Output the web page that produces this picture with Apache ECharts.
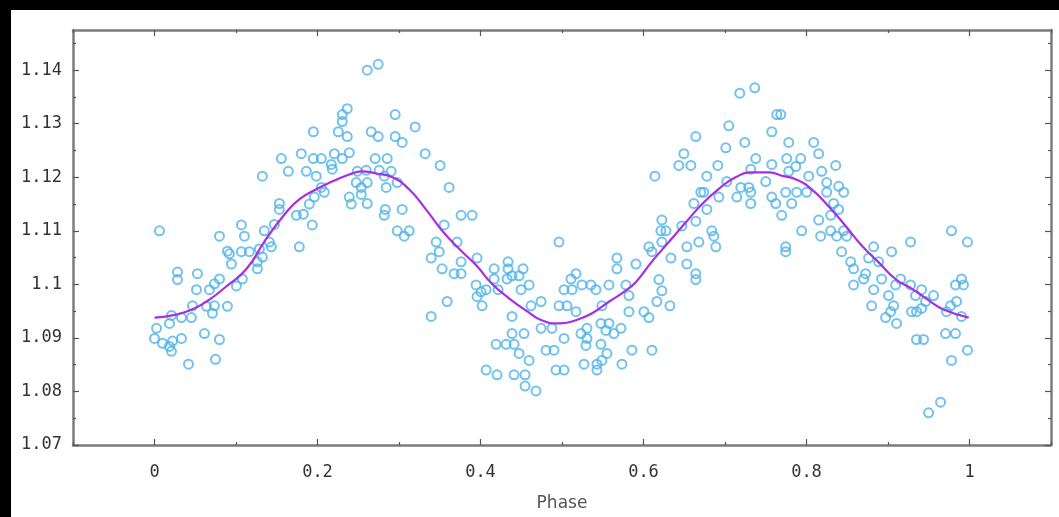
<!DOCTYPE html>
<html>
<head>
<meta charset="utf-8">
<script src="https://cdn.jsdelivr.net/npm/echarts@6/dist/echarts.min.js"></script>
<style>
html,body{margin:0;padding:0;background:#000;width:1059px;height:517px;overflow:hidden;}
#chart{position:absolute;left:11px;top:10px;width:1048px;height:507px;background:#fff;}
</style>
</head>
<body>
<div id="chart"></div>
<script>
// Observed points: [phase, relative flux]
const observed = [
[0.0061,1.1100],[0.1556,1.1235],[0.1801,1.1244],[0.1642,1.1211],[0.1324,1.1202],[0.1532,1.1151],[0.1532,1.1140],
[0.1740,1.1129],[0.1777,1.1070],[0.1066,1.1111],[0.1103,1.1090],[0.0797,1.1090],[0.1348,1.1100],[0.1471,1.1112],
[0.0895,1.1062],[0.0919,1.1057],[0.1066,1.1061],[0.1164,1.1061],[0.1287,1.1066],[0.1324,1.1051],[0.1262,1.1042],
[0.1262,1.1029],[0.1434,1.1070],[0.1409,1.1079],[0.0944,1.1038],[0.0282,1.1023],[0.0282,1.1009],[0.0527,1.1020],
[0.0797,1.1010],[0.1078,1.1010],[0.1005,1.0997],[0.0515,1.0990],[0.0674,1.0990],[0.0735,1.1001],[0.0466,1.0960],
[0.0637,1.0959],[0.0711,1.0946],[0.0735,1.0960],[0.0895,1.0959],[0.0208,1.0942],[0.0184,1.0927],[0.0331,1.0938],
[0.0453,1.0938],[0.0025,1.0918],[0.0000,1.0899],[0.0098,1.0890],[0.0184,1.0884],[0.0221,1.0894],[0.0331,1.0899],
[0.0208,1.0875],[0.0613,1.0908],[0.0797,1.0897],[0.0417,1.0851],[0.0748,1.0860],
[0.2610,1.1400],[0.2745,1.1411],[0.2365,1.1328],[0.2304,1.1317],[0.2304,1.1304],[0.2255,1.1285],[0.2365,1.1276],
[0.1949,1.1285],[0.2953,1.1317],[0.3199,1.1294],[0.2659,1.1285],[0.2745,1.1276],[0.2953,1.1276],[0.3039,1.1265],
[0.3321,1.1244],[0.3505,1.1222],[0.3615,1.1181],[0.3762,1.1129],[0.1949,1.1235],[0.2047,1.1235],[0.2206,1.1244],
[0.2390,1.1246],[0.2304,1.1235],[0.2169,1.1224],[0.2181,1.1215],[0.1863,1.1211],[0.1985,1.1202],[0.2708,1.1235],
[0.2855,1.1235],[0.2488,1.1211],[0.2598,1.1213],[0.2757,1.1213],[0.2904,1.1211],[0.2819,1.1202],[0.2475,1.1190],
[0.2610,1.1190],[0.2537,1.1181],[0.2537,1.1168],[0.2843,1.1181],[0.2978,1.1190],[0.2390,1.1163],[0.2414,1.1150],
[0.2610,1.1151],[0.2831,1.1140],[0.2819,1.1129],[0.3039,1.1140],[0.1826,1.1131],[0.1936,1.1111],[0.2047,1.1181],
[0.2083,1.1172],[0.1961,1.1163],[0.1900,1.1150],[0.2978,1.1100],[0.3125,1.1100],[0.3064,1.1090],[0.3554,1.1111],
[0.3456,1.1079],[0.3493,1.1061],[0.3395,1.1049],[0.3713,1.1079],[0.3529,1.1029],[0.3676,1.1020],[0.3762,1.1020],
[0.3591,1.0968],[0.3395,1.0940],[0.3762,1.1042],
[0.3897,1.1129],[0.3958,1.1049],[0.3946,1.0999],[0.4007,1.0986],[0.3958,1.0977],[0.4020,1.0960],[0.4069,1.0990],
[0.4167,1.1029],[0.4167,1.1010],[0.4216,1.0990],[0.4338,1.1042],[0.4338,1.1029],[0.4387,1.1016],[0.4326,1.1010],
[0.4522,1.1029],[0.4473,1.1016],[0.4596,1.0999],[0.4498,1.0990],[0.4743,1.0968],[0.4620,1.0960],[0.4387,1.0940],
[0.4387,1.0908],[0.4534,1.0908],[0.4191,1.0888],[0.4314,1.0888],[0.4412,1.0888],[0.4473,1.0871],[0.4596,1.0858],
[0.4069,1.0840],[0.4203,1.0831],[0.4412,1.0831],[0.4547,1.0831],[0.4547,1.0810],[0.4681,1.0801],[0.4743,1.0918],
[0.4804,1.0877],[0.4902,1.0877],[0.4963,1.1079],[0.4926,1.0840],[0.5025,1.0840],[0.5172,1.1020],[0.5110,1.1010],
[0.5123,1.0990],[0.5025,1.0990],[0.5245,1.0999],[0.5355,1.0999],[0.5417,1.0990],[0.5576,1.0999],[0.4963,1.0960],
[0.5061,1.0960],[0.5172,1.0949],[0.4877,1.0918],[0.5025,1.0899],[0.5233,1.0908],[0.5306,1.0918],[0.5306,1.0899],
[0.5294,1.0886],[0.5270,1.0851],[0.5478,1.0927],[0.5576,1.0927],[0.5539,1.0914],[0.5637,1.0908],[0.5478,1.0888],
[0.5551,1.0871],[0.5490,1.0858],[0.5429,1.0851],[0.5429,1.0840],[0.5490,1.0960],[0.5674,1.1049],[0.5674,1.1029],
[0.5735,1.0851],
[0.7365,1.1367],[0.7181,1.1357],[0.7635,1.1317],[0.7574,1.1285],[0.7047,1.1296],[0.7243,1.1265],[0.6642,1.1276],
[0.7010,1.1255],[0.6495,1.1244],[0.6434,1.1222],[0.6581,1.1222],[0.6140,1.1202],[0.6912,1.1222],[0.6777,1.1202],
[0.7377,1.1235],[0.7316,1.1215],[0.7574,1.1224],[0.7500,1.1192],[0.7022,1.1192],[0.6703,1.1172],[0.6740,1.1172],
[0.6618,1.1151],[0.6924,1.1163],[0.6777,1.1140],[0.6642,1.1118],[0.7194,1.1181],[0.7292,1.1181],[0.7145,1.1163],
[0.7316,1.1172],[0.7316,1.1151],[0.7574,1.1163],[0.7623,1.1151],[0.6225,1.1120],[0.6213,1.1100],[0.6275,1.1100],
[0.6225,1.1079],[0.6471,1.1109],[0.6838,1.1100],[0.6863,1.1090],[0.6887,1.1070],[0.6679,1.1079],[0.6532,1.1070],
[0.6066,1.1070],[0.6103,1.1061],[0.6336,1.1049],[0.6532,1.1038],[0.6642,1.1020],[0.6642,1.1009],[0.5907,1.1038],
[0.5784,1.0999],[0.5821,1.0979],[0.6189,1.1009],[0.6225,1.0988],[0.6164,1.0968],[0.6324,1.0960],[0.5821,1.0949],
[0.6005,1.0949],[0.6066,1.0938],[0.5723,1.0918],[0.5858,1.0877],[0.6103,1.0877],
[0.7684,1.1317],[0.7782,1.1265],[0.8088,1.1265],[0.8150,1.1244],[0.7757,1.1235],[0.7929,1.1235],[0.7868,1.1220],
[0.7782,1.1211],[0.8358,1.1222],[0.8186,1.1211],[0.8027,1.1202],[0.8248,1.1190],[0.7745,1.1172],[0.7880,1.1172],
[0.7819,1.1151],[0.8002,1.1172],[0.8248,1.1172],[0.8395,1.1183],[0.8456,1.1172],[0.8333,1.1151],[0.8395,1.1140],
[0.8297,1.1129],[0.7696,1.1129],[0.8150,1.1120],[0.7941,1.1100],[0.8174,1.1090],[0.8297,1.1100],[0.8370,1.1090],
[0.8493,1.1090],[0.8456,1.1100],[0.7745,1.1070],[0.7745,1.1061],[0.8431,1.1061],[0.8542,1.1042],[0.8578,1.1029],
[0.8578,1.0999],[0.8725,1.1020],[0.8701,1.1010],[0.8824,1.1070],[0.8762,1.1049],[0.9044,1.1061],[0.8885,1.1042],
[0.8922,1.1010],[0.8824,1.0990],[0.8799,1.0960],[0.9007,1.0979],[0.9069,1.0960],[0.9032,1.0949],[0.8971,1.0938],
[0.9105,1.0927],[0.9277,1.1079],[0.9154,1.1010],[0.9093,1.0999],[0.9277,1.0999],[0.9412,1.0990],[0.9338,1.0979],
[0.9559,1.0979],[0.9461,1.0968],[0.9289,1.0949],[0.9350,1.0949],[0.9350,1.0897],[0.9436,1.0897],[0.9498,1.0760],
[0.9645,1.0780],
[0.9779,1.1100],[0.9975,1.1079],[0.9902,1.1010],[0.9828,1.0999],[0.9926,1.0999],[0.9841,1.0968],[0.9767,1.0960],
[0.9718,1.0949],[0.9902,1.0940],[0.9412,1.0955],[0.9706,1.0908],[0.9828,1.0908],[0.9779,1.0858],[0.9975,1.0877]
];

// Fitted curve
const fitPhase = [0.000,0.022,0.043,0.064,0.088,0.113,0.137,0.162,0.178,0.199,0.218,0.239,0.254,0.272,0.292,0.312,
  0.333,0.353,0.374,0.395,0.414,0.435,0.456,0.475,0.496,0.517,0.537,0.558,0.576,0.591,0.610,0.631,0.652,0.672,0.692,
  0.713,0.733,0.754,0.772,0.787,0.806,0.827,0.848,0.868,0.888,0.909,0.929,0.950,0.968,0.999];
const fitValue = [1.0938,1.0942,1.0951,1.0968,1.0996,1.1029,1.1085,1.1135,1.1159,1.1178,1.1192,1.1205,1.1211,1.1207,
  1.1200,1.1178,1.1140,1.1100,1.1066,1.1035,1.1001,1.0974,1.0951,1.0933,1.0927,1.0933,1.0946,1.0968,1.0986,1.1005,
  1.1042,1.1079,1.1116,1.1150,1.1178,1.1200,1.1209,1.1209,1.1202,1.1196,1.1178,1.1146,1.1109,1.1072,1.1042,1.1010,
  1.0992,1.0970,1.0953,1.0938];

// Tick positions
const xMajorTicks = [0, 0.2, 0.4, 0.6, 0.8, 1];
const xMinorTicks = [-0.1, 0.1, 0.3, 0.5, 0.7, 0.9, 1.1];
const yMajorTicks = [1.07, 1.08, 1.09, 1.1, 1.11, 1.12, 1.13, 1.14];
const yMinorTicks = [1.075, 1.085, 1.095, 1.105, 1.115, 1.125, 1.135, 1.145];

const axisColor = '#7c7c7c';
const tickColor = '#555';
const labelStyle = {fontFamily: 'DejaVu Sans Mono', fontSize: 17, color: '#333'};

function xAx(pos, ticks, len, withLine, labels) {
  return {
    type: 'value', position: pos, min: -0.1, max: 1.1,
    axisLine: {show: withLine, onZero: false, lineStyle: {color: axisColor, width: 2.5}},
    axisTick: {show: true, inside: true, length: len, customValues: ticks, lineStyle: {color: tickColor, width: 1.2}},
    axisLabel: labels ? Object.assign({show: true, customValues: xMajorTicks, margin: 19,
      formatter: v => String(Math.round(v * 10) / 10)}, labelStyle) : {show: false},
    splitLine: {show: false}
  };
}
function yAx(pos, ticks, len, withLine, labels) {
  return {
    type: 'value', position: pos, min: 1.07, max: 1.1475,
    axisLine: {show: withLine, onZero: false, lineStyle: {color: axisColor, width: 2.5}},
    axisTick: {show: true, inside: true, length: len, customValues: ticks, lineStyle: {color: tickColor, width: 1.2}},
    axisLabel: labels ? Object.assign({show: true, customValues: yMajorTicks, margin: 11,
      formatter: v => String(Math.round(v * 100) / 100)}, labelStyle) : {show: false},
    splitLine: {show: false}
  };
}

const chart = echarts.init(document.getElementById('chart'), null, {renderer: 'canvas'});
const xMain = xAx('bottom', xMajorTicks, 6, true, true);
xMain.name = 'Phase';
xMain.nameLocation = 'middle';
xMain.nameGap = 50;
xMain.nameTextStyle = {fontFamily: 'DejaVu Sans', fontSize: 17, color: '#555'};

chart.setOption({
  animation: false,
  backgroundColor: '#fff',
  grid: {left: 62, top: 20, right: 8, bottom: 68},
  xAxis: [
    xMain,
    xAx('bottom', xMinorTicks, 3, false, false),
    xAx('top', xMajorTicks, 6, true, false),
    xAx('top', xMinorTicks, 3, false, false)
  ],
  yAxis: [
    yAx('left', yMajorTicks, 6, true, true),
    yAx('left', yMinorTicks, 3, false, false),
    yAx('right', yMajorTicks, 6, true, false),
    yAx('right', yMinorTicks, 3, false, false)
  ],
  series: [
    {
      type: 'scatter', xAxisIndex: 0, yAxisIndex: 0,
      data: observed, symbol: 'circle', symbolSize: 9,
      itemStyle: {color: 'rgba(0,0,0,0)', borderColor: '#4fb3ea', borderWidth: 2},
      z: 2
    },
    {
      type: 'line', xAxisIndex: 0, yAxisIndex: 0,
      data: fitPhase.map((p, i) => [p, fitValue[i]]),
      smooth: true, showSymbol: false,
      lineStyle: {color: '#a82ee0', width: 2.2},
      z: 3
    }
  ]
});
</script>
</body>
</html>
